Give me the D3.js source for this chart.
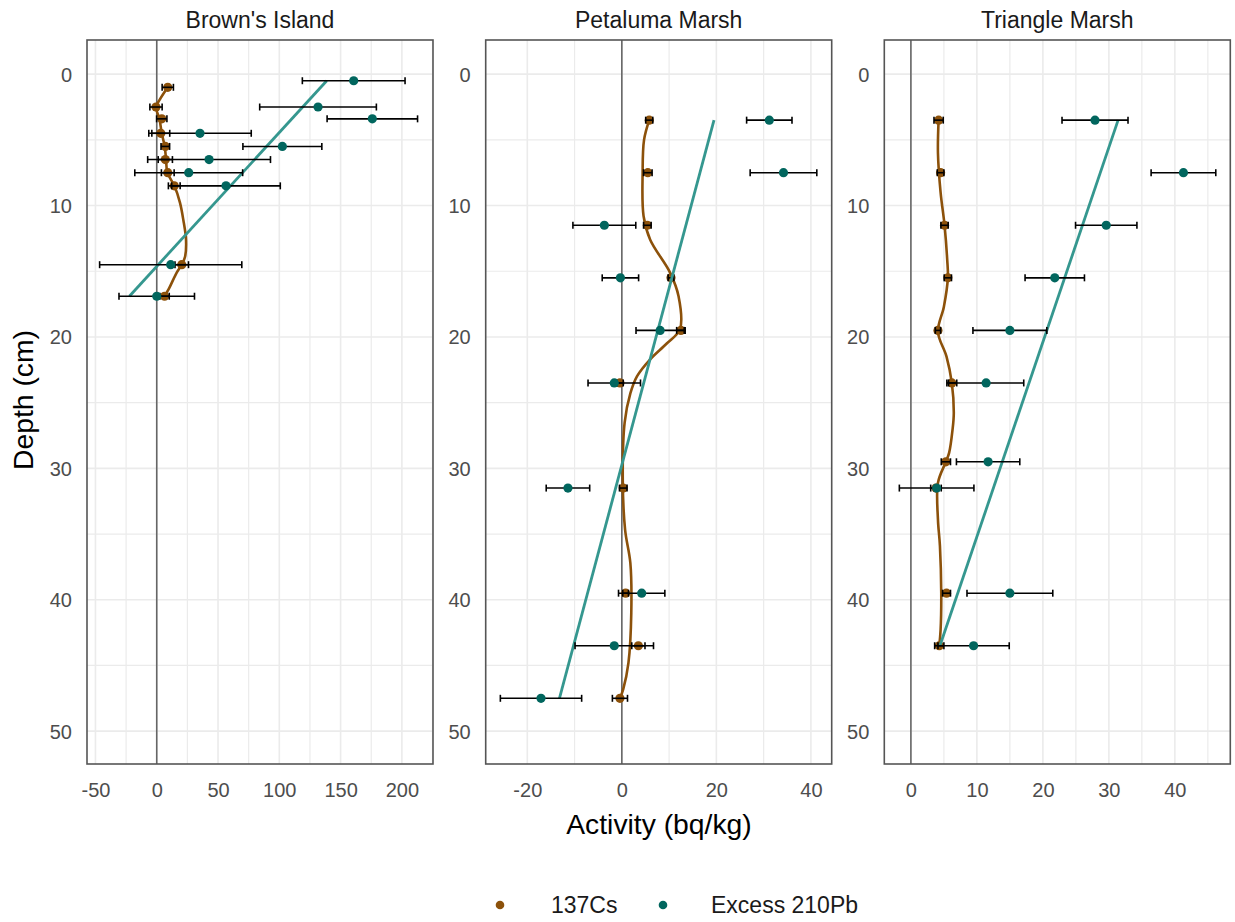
<!DOCTYPE html>
<html><head><meta charset="utf-8">
<script src="https://cdn.jsdelivr.net/npm/d3@7"></script>
<style>body{margin:0;background:#fff}svg{display:block}text{font-family:"Liberation Sans",Arial,sans-serif}</style>
</head><body><svg id="c" width="1235" height="922"></svg>
<script>
// ---- data ----
const sites = ["Brown's Island", "Petaluma Marsh", "Triangle Marsh"];
const seriesNames = ["137Cs", "Excess 210Pb"];
const depthTicks = [0, 10, 20, 30, 40, 50];
const xTicksBrowns = [-50, 0, 50, 100, 150, 200];
const xTicksPetaluma = [-20, 0, 20, 40];
const xTicksTriangle = [0, 10, 20, 30, 40];

// Brown's Island
const brownsPbDepth = [0.5, 2.5, 3.4, 4.5, 5.5, 6.5, 7.5, 8.5, 14.5, 16.9];
const brownsPbValue = [160.7, 131.6, 175.9, 35.3, 102.5, 42.7, 26.1, 56.5, 11.4, 0];
const brownsPbErr = [41.9, 47.6, 36.9, 41.8, 32.2, 50.1, 44.0, 44.3, 58.0, 30.8];
const brownsCsDepth = [1.0, 2.5, 3.4, 4.5, 5.5, 6.5, 7.5, 8.5, 14.5, 16.9];
const brownsCsValue = [9.0, -0.6, 4.1, 3.3, 7.0, 7.0, 9.0, 14.3, 20.4, 6.4];
const brownsCsErr = [4.6, 5.0, 4.2, 7.3, 3.5, 5.8, 5.2, 4.8, 5.5, 3.8];
const brownsCsSmoothDepth = [1.0, 1.9, 2.5, 3.4, 4.5, 5.5, 6.5, 7.5, 8.5, 9.8, 11.1, 12.6, 13.9, 14.5, 15.1, 16.4, 16.9];
const brownsCsSmoothValue = [9.0, 2.7, -0.6, 2.2, 4.1, 6.5, 7.6, 8.7, 14.4, 19.0, 21.7, 23.9, 23.1, 20.4, 16.3, 9.5, 6.2];
const brownsPbFitDepth = [0.5, 16.9];
const brownsPbFitValue = [138.7, -22.3];

// Petaluma Marsh
const petalumaPbDepth = [3.5, 7.5, 11.5, 15.5, 19.5, 23.5, 31.5, 39.5, 43.5, 47.5];
const petalumaPbValue = [31.2, 34.2, -3.7, -0.3, 8.1, -1.6, -11.4, 4.2, -1.6, -17.1];
const petalumaPbErr = [4.8, 7.05, 6.65, 3.85, 5.1, 5.55, 4.6, 4.9, 8.3, 8.6];
const petalumaCsDepth = [3.5, 7.5, 11.5, 15.5, 19.5, 23.5, 31.5, 39.5, 43.5, 47.5];
const petalumaCsValue = [5.8, 5.5, 5.4, 10.4, 12.5, -0.4, 0.3, 0.8, 3.5, -0.4];
const petalumaCsErr = [0.75, 0.9, 0.8, 0.6, 0.9, 0.7, 0.8, 0.6, 1.4, 1.6];
const petalumaCsSmoothDepth = [3.5, 5.0, 7.5, 10.8, 12.6, 15.1, 16.9, 19.4, 20.5, 21.7, 23.0, 24.3, 26.5, 30.9, 34.7, 37.2, 41.0, 44.8, 46.8, 47.5];
const petalumaCsSmoothValue = [5.8, 4.7, 4.4, 4.6, 6.0, 10.2, 12.0, 12.3, 9.5, 6.0, 3.2, 1.8, 0.6, 0.2, 0.7, 1.8, 2.0, 1.4, 0.3, -0.4];
const petalumaPbFitDepth = [3.5, 47.5];
const petalumaPbFitValue = [19.5, -13.2];

// Triangle Marsh
const trianglePbDepth = [3.5, 7.5, 11.5, 15.5, 19.5, 23.5, 29.5, 31.5, 39.5, 43.5];
const trianglePbValue = [27.9, 41.3, 29.6, 21.8, 15.0, 11.4, 11.7, 3.9, 15.0, 9.5];
const trianglePbErr = [5.0, 4.9, 4.65, 4.5, 5.6, 5.7, 4.8, 5.65, 6.5, 5.4];
const triangleCsDepth = [3.5, 7.5, 11.5, 15.5, 19.5, 23.5, 29.5, 31.5, 39.5, 43.5];
const triangleCsValue = [4.2, 4.5, 5.1, 5.6, 4.1, 6.2, 5.3, 3.8, 5.4, 4.3];
const triangleCsErr = [0.7, 0.5, 0.55, 0.55, 0.4, 0.75, 0.7, 0.8, 0.6, 0.7];
const triangleCsSmoothDepth = [3.5, 6.0, 9.0, 11.5, 14.1, 15.5, 17.7, 19.6, 21.5, 23.5, 25.8, 27.1, 28.8, 29.5, 31.1, 33.9, 35.9, 39.5, 42.3, 43.5];
const triangleCsSmoothValue = [4.2, 4.1, 4.5, 5.1, 5.5, 5.6, 5.0, 4.1, 5.4, 6.2, 6.5, 6.3, 5.8, 5.3, 4.1, 4.1, 4.4, 4.6, 4.5, 4.3];
const trianglePbFitDepth = [3.5, 43.5];
const trianglePbFitValue = [31.4, 4.4];

// ---- build ----
const zip = (d, v, e) => d.map((dd, i) => ({depth: dd, value: v[i], err: e ? e[i] : 0}));
const facets = [
  {name: sites[0], xd: [-56.9, 225.4], ticks: xTicksBrowns, major: 50,
   pb: zip(brownsPbDepth, brownsPbValue, brownsPbErr), cs: zip(brownsCsDepth, brownsCsValue, brownsCsErr),
   csS: zip(brownsCsSmoothDepth, brownsCsSmoothValue), pbF: zip(brownsPbFitDepth, brownsPbFitValue)},
  {name: sites[1], xd: [-28.8, 44.4], ticks: xTicksPetaluma, major: 20,
   pb: zip(petalumaPbDepth, petalumaPbValue, petalumaPbErr), cs: zip(petalumaCsDepth, petalumaCsValue, petalumaCsErr),
   csS: zip(petalumaCsSmoothDepth, petalumaCsSmoothValue), pbF: zip(petalumaPbFitDepth, petalumaPbFitValue)},
  {name: sites[2], xd: [-4.03, 48.4], ticks: xTicksTriangle, major: 10,
   pb: zip(trianglePbDepth, trianglePbValue, trianglePbErr), cs: zip(triangleCsDepth, triangleCsValue, triangleCsErr),
   csS: zip(triangleCsSmoothDepth, triangleCsSmoothValue), pbF: zip(trianglePbFitDepth, trianglePbFitValue)}
];

const csCol = "#8c510a", pbCol = "#01665e", pbLine = "#35978f";
const panelX = [87, 485.7, 884.3], panelW = 346, pTop = 40, pBottom = 764;
const svg = d3.select("#c");
const y = d3.scaleLinear().domain([-2.6, 52.5]).range([pTop, pBottom]);
const fmt = d => String(d);

facets.forEach((f, i) => {
  const x0 = panelX[i];
  const x = d3.scaleLinear().domain(f.xd).range([x0, x0 + panelW]);
  const g = svg.append("g");
  // grid
  const minorX = [], majorX = f.ticks;
  const step = f.major / 2;
  for (let v = Math.ceil(f.xd[0] / step) * step; v <= f.xd[1]; v += step) minorX.push(v);
  const minorY = [];
  for (let v = 0; v <= 52; v += 5) minorY.push(v);
  g.selectAll(".gx").data(minorX).join("line")
    .attr("x1", d => x(d)).attr("x2", d => x(d)).attr("y1", pTop).attr("y2", pBottom)
    .attr("stroke", "#ebebeb").attr("stroke-width", d => majorX.includes(d) ? 1.6 : 1.2);
  g.selectAll(".gy").data(minorY).join("line")
    .attr("y1", d => y(d)).attr("y2", d => y(d)).attr("x1", x0).attr("x2", x0 + panelW)
    .attr("stroke", "#ebebeb").attr("stroke-width", d => depthTicks.includes(d) ? 1.6 : 1.2);
  // zero line
  g.append("line").attr("x1", x(0)).attr("x2", x(0)).attr("y1", pTop).attr("y2", pBottom)
    .attr("stroke", "#666").attr("stroke-width", 1.6);
  // Cs smooth
  g.append("path").datum(f.csS)
    .attr("d", d3.line().x(d => x(d.value)).y(d => y(d.depth)).curve(d3.curveCatmullRom))
    .attr("fill", "none").attr("stroke", csCol).attr("stroke-width", 2.6);
  // Cs points
  g.selectAll(".csp").data(f.cs).join("circle")
    .attr("cx", d => x(d.value)).attr("cy", d => y(d.depth)).attr("r", 4.6).attr("fill", csCol);
  // error bars
  const eb = (sel, data) => {
    const e = sel.selectAll(null).data(data).join("g").attr("stroke", "#000").attr("stroke-width", 1.6);
    e.append("line").attr("x1", d => x(d.value - d.err)).attr("x2", d => x(d.value + d.err))
      .attr("y1", d => y(d.depth)).attr("y2", d => y(d.depth));
    e.append("line").attr("x1", d => x(d.value - d.err)).attr("x2", d => x(d.value - d.err))
      .attr("y1", d => y(d.depth) - 3.5).attr("y2", d => y(d.depth) + 3.5);
    e.append("line").attr("x1", d => x(d.value + d.err)).attr("x2", d => x(d.value + d.err))
      .attr("y1", d => y(d.depth) - 3.5).attr("y2", d => y(d.depth) + 3.5);
  };
  eb(g, f.cs);
  // Pb fit
  g.append("path").datum(f.pbF)
    .attr("d", d3.line().x(d => x(d.value)).y(d => y(d.depth)))
    .attr("fill", "none").attr("stroke", pbLine).attr("stroke-width", 2.8);
  eb(g, f.pb);
  g.selectAll(".pbp").data(f.pb).join("circle")
    .attr("cx", d => x(d.value)).attr("cy", d => y(d.depth)).attr("r", 4.6).attr("fill", pbCol);
  // border
  g.append("rect").attr("x", x0).attr("y", pTop).attr("width", panelW).attr("height", pBottom - pTop)
    .attr("fill", "none").attr("stroke", "#555").attr("stroke-width", 1.6);
  // axes
  const xa = d3.axisBottom(x).tickValues(f.ticks).tickFormat(fmt).tickSize(0).tickPadding(0);
  const gx = g.append("g").attr("transform", `translate(0,${pBottom})`).call(xa);
  gx.select(".domain").remove();
  gx.selectAll("text").attr("y", 33).attr("dy", 0).attr("fill", "#4d4d4d").attr("font-size", 20);
  const ya = d3.axisLeft(y).tickValues(depthTicks).tickFormat(fmt).tickSize(0).tickPadding(0);
  const gy = g.append("g").attr("transform", `translate(${x0 - 15},0)`).call(ya);
  gy.select(".domain").remove();
  gy.selectAll("text").attr("x", 0).attr("dy", "0.35em").attr("fill", "#4d4d4d").attr("font-size", 20);
  // strip
  g.append("text").attr("x", x0 + panelW / 2).attr("y", 28).attr("text-anchor", "middle")
    .attr("font-size", 23).attr("fill", "#1a1a1a").text(f.name);
});

// axis titles
svg.append("text").attr("x", 659).attr("y", 834).attr("text-anchor", "middle")
  .attr("font-size", 28.3).attr("fill", "#000").text("Activity (bq/kg)");
svg.append("text").attr("transform", "translate(33,400) rotate(-90)").attr("text-anchor", "middle")
  .attr("font-size", 28.3).attr("fill", "#000").text("Depth (cm)");

// legend
const legX = [500, 663], legTX = [551, 711];
const lg = svg.append("g");
seriesNames.forEach((s, i) => {
  lg.append("circle").attr("cx", legX[i]).attr("cy", 905).attr("r", 4.3).attr("fill", i === 0 ? csCol : pbCol);
  lg.append("text").attr("x", legTX[i]).attr("y", 913).attr("font-size", 23).attr("fill", "#1a1a1a").text(s);
});
</script></body></html>
